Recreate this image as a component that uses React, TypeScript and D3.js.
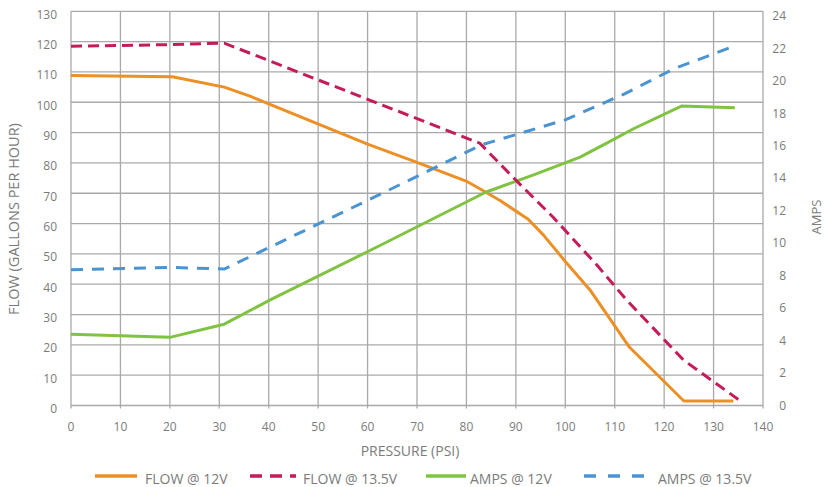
import React from "react";
import * as d3 from "d3";

const xTicks = [0, 10, 20, 30, 40, 50, 60, 70, 80, 90, 100, 110, 120, 130, 140];
const flowTicks = [0, 10, 20, 30, 40, 50, 60, 70, 80, 90, 100, 110, 120, 130];
const ampTicks = [0, 2, 4, 6, 8, 10, 12, 14, 16, 18, 20, 22, 24];

// [pressure, value]
const flow12: [number, number][] = [
  [0, 108.8], [20.5, 108.4], [31, 105], [36.2, 102], [60, 86.2], [70, 80.2],
  [80.2, 73.8], [83.4, 70.8], [86.8, 67.6], [92.5, 61.4], [95.6, 56.2],
  [100, 47.5], [105, 38.1], [113, 19.2], [124, 1.5], [134, 1.5],
];
const flow135: [number, number][] = [
  [0, 118.5], [20, 119], [31, 119.5], [82.7, 86.5], [90.8, 73], [97.6, 62],
  [106.4, 46.3], [112.4, 34.8], [123.9, 15], [135, 2],
];
const amps12: [number, number][] = [
  [0, 4.38], [20, 4.19], [31, 5.0], [40, 6.45], [62.5, 9.85], [84, 13.15],
  [94, 14.25], [103, 15.3], [108, 16.1], [113.8, 17.05], [123.5, 18.45], [134.3, 18.35],
];
const amps135: [number, number][] = [
  [0, 8.35], [20, 8.5], [31, 8.4], [62.5, 13.0], [83, 16.05], [100, 17.6],
  [112, 19.2], [122, 20.75], [133.8, 22.1],
];

const legendItems = [
  { label: "FLOW @ 12V", color: "#EC9026", dash: "", x1: 95, x2: 137, tx: 145 },
  { label: "FLOW @ 13.5V", color: "#C41C5A", dash: "12,8", x1: 250, x2: 296, tx: 303 },
  { label: "AMPS @ 12V", color: "#80C342", dash: "", x1: 426, x2: 466, tx: 470 },
  { label: "AMPS @ 13.5V", color: "#4A94D2", dash: "12,12", x1: 584, x2: 646, tx: 658 },
];

export default function App() {
  const x = d3.scaleLinear().domain([0, 140]).range([71, 763]);
  const yF = d3.scaleLinear().domain([0, 130]).range([405.5, 11.3]);
  const yA = d3.scaleLinear().domain([0, 24]).range([405.3, 16]);

  const lineF = d3.line<[number, number]>().x((d) => x(d[0])).y((d) => yF(d[1]));
  const lineA = d3.line<[number, number]>().x((d) => x(d[0])).y((d) => yA(d[1]));

  const grid = "#A9A9A9";
  const txt = "#7B7B7B";
  const font = "'Open Sans', 'Noto Sans', sans-serif";

  return (
    <svg
      width={825}
      height={487}
      style={{ position: "absolute", left: 0, top: 0, display: "block", background: "#fff" }}
      fontFamily={font}
    >
      {/* grid */}
      {flowTicks.map((t) => (
        <line key={"h" + t} x1={71} x2={763} y1={yF(t)} y2={yF(t)} stroke={grid} strokeWidth={1.3} />
      ))}
      {xTicks.map((t) => (
        <line key={"v" + t} x1={x(t)} x2={x(t)} y1={yF(130)} y2={408.5} stroke={grid} strokeWidth={1.3} />
      ))}

      {/* left tick labels */}
      {flowTicks.map((t) => (
        <text key={"lt" + t} x={57} y={yF(t) + 7.5} textAnchor="end" fontSize={12} fill={txt}>
          {t}
        </text>
      ))}
      {/* right tick labels */}
      {ampTicks.map((t) => (
        <text key={"rt" + t} x={786} y={yA(t) + 4.2} textAnchor="end" fontSize={12} fill={txt}>
          {t}
        </text>
      ))}
      {/* bottom tick labels */}
      {xTicks.map((t) => (
        <text key={"bt" + t} x={x(t)} y={431} textAnchor="middle" fontSize={12} fill={txt}>
          {t}
        </text>
      ))}

      {/* axis titles */}
      <text x={410} y={456} textAnchor="middle" fontSize={14} fill={txt}>
        PRESSURE (PSI)
      </text>
      <text
        transform="translate(18.5,219) rotate(-90)"
        textAnchor="middle"
        fontSize={14.5}
        fill={txt}
      >
        FLOW (GALLONS PER HOUR)
      </text>
      <text transform="translate(821,217) rotate(-90)" textAnchor="middle" fontSize={13} fill={txt}>
        AMPS
      </text>

      {/* series */}
      <path d={lineF(flow12) || ""} fill="none" stroke="#EC9026" strokeWidth={3} strokeLinejoin="round" />
      <path d={lineA(amps12) || ""} fill="none" stroke="#80C342" strokeWidth={3} strokeLinejoin="round" />
      <path d={lineA(amps135) || ""} fill="none" stroke="#4A94D2" strokeWidth={3} strokeDasharray="12,9" />
      <path d={lineF(flow135) || ""} fill="none" stroke="#C41C5A" strokeWidth={3} strokeDasharray="11,6" />

      {/* legend */}
      {legendItems.map((it) => (
        <g key={it.label}>
          <line x1={it.x1} x2={it.x2} y1={476} y2={476} stroke={it.color} strokeWidth={3.5} strokeDasharray={it.dash || undefined} />
          <text x={it.tx} y={484} fontSize={14} fill={txt}>
            {it.label}
          </text>
        </g>
      ))}
    </svg>
  );
}
